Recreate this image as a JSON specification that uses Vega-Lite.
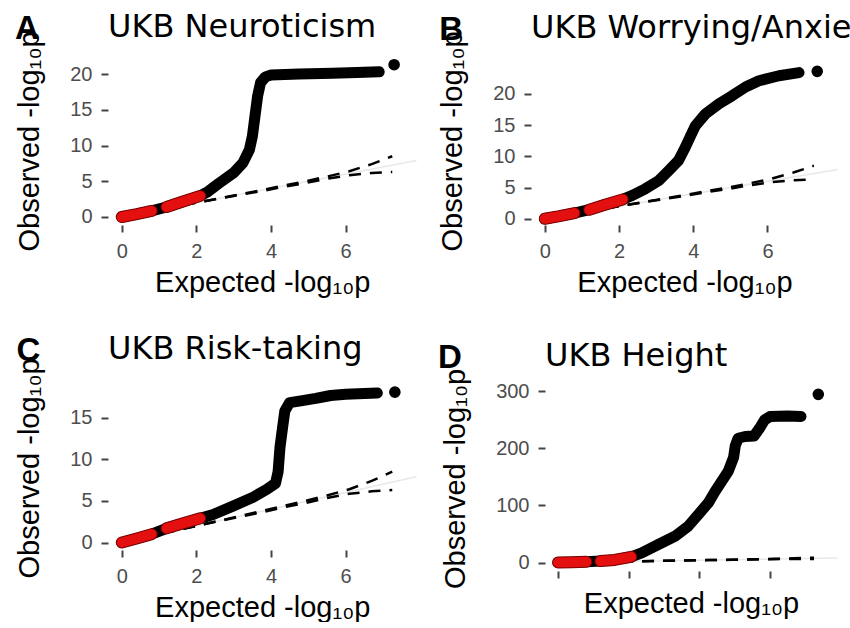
{
  "$schema": "https://vega.github.io/schema/vega-lite/v6.json",
  "background": "white",
  "padding": {"left": 15, "top": 10, "right": 0, "bottom": 0},
  "datasets": {
    "A": [
      {"x": 0, "y": 0, "c": "red", "g": "r1"},
      {"x": 0.4, "y": 0.4, "c": "red", "g": "r1"},
      {"x": 0.8, "y": 0.85, "c": "red", "g": "r1"},
      {"x": 1.2, "y": 1.4, "c": "red", "g": "r2"},
      {"x": 1.6, "y": 2.1, "c": "red", "g": "r2"},
      {"x": 2.1, "y": 2.95, "c": "red", "g": "r2"},
      {"x": 2.3, "y": 3.5, "c": "black", "g": "k"},
      {"x": 2.6, "y": 4.7, "c": "black", "g": "k"},
      {"x": 3.0, "y": 6.2, "c": "black", "g": "k"},
      {"x": 3.25, "y": 7.6, "c": "black", "g": "k"},
      {"x": 3.42, "y": 9.4, "c": "black", "g": "k"},
      {"x": 3.5, "y": 11.3, "c": "black", "g": "k"},
      {"x": 3.57, "y": 14.1, "c": "black", "g": "k"},
      {"x": 3.64, "y": 16.9, "c": "black", "g": "k"},
      {"x": 3.72, "y": 18.8, "c": "black", "g": "k"},
      {"x": 3.85, "y": 19.6, "c": "black", "g": "k"},
      {"x": 4.0, "y": 19.85, "c": "black", "g": "k"},
      {"x": 4.75, "y": 20.0, "c": "black", "g": "k"},
      {"x": 5.65, "y": 20.1, "c": "black", "g": "k"},
      {"x": 6.3, "y": 20.2, "c": "black", "g": "k"},
      {"x": 6.9, "y": 20.3, "c": "black", "g": "k"},
      {"x": 7.3, "y": 21.3, "c": "black", "g": "t"}
    ],
    "B": [
      {"x": 0, "y": 0, "c": "red", "g": "r1"},
      {"x": 0.4, "y": 0.42, "c": "red", "g": "r1"},
      {"x": 0.8, "y": 0.9, "c": "red", "g": "r1"},
      {"x": 1.2, "y": 1.45, "c": "red", "g": "r2"},
      {"x": 1.6, "y": 2.2, "c": "red", "g": "r2"},
      {"x": 2.1, "y": 3.1, "c": "red", "g": "r2"},
      {"x": 2.36, "y": 3.73, "c": "black", "g": "k"},
      {"x": 2.71, "y": 4.8, "c": "black", "g": "k"},
      {"x": 3.07, "y": 6.1, "c": "black", "g": "k"},
      {"x": 3.34, "y": 7.7, "c": "black", "g": "k"},
      {"x": 3.6, "y": 9.3, "c": "black", "g": "k"},
      {"x": 3.79, "y": 11.5, "c": "black", "g": "k"},
      {"x": 3.93, "y": 13.3, "c": "black", "g": "k"},
      {"x": 4.06, "y": 14.9, "c": "black", "g": "k"},
      {"x": 4.33, "y": 16.8, "c": "black", "g": "k"},
      {"x": 4.69, "y": 18.4, "c": "black", "g": "k"},
      {"x": 5.05, "y": 19.7, "c": "black", "g": "k"},
      {"x": 5.41, "y": 21.1, "c": "black", "g": "k"},
      {"x": 5.77, "y": 22.1, "c": "black", "g": "k"},
      {"x": 6.31, "y": 22.9, "c": "black", "g": "k"},
      {"x": 6.85, "y": 23.4, "c": "black", "g": "k"},
      {"x": 7.34, "y": 23.6, "c": "black", "g": "t"}
    ],
    "C": [
      {"x": 0, "y": 0, "c": "red", "g": "r1"},
      {"x": 0.4, "y": 0.48, "c": "red", "g": "r1"},
      {"x": 0.8, "y": 1.0, "c": "red", "g": "r1"},
      {"x": 1.2, "y": 1.7, "c": "red", "g": "r2"},
      {"x": 1.6, "y": 2.25, "c": "red", "g": "r2"},
      {"x": 2.1, "y": 2.9, "c": "red", "g": "r2"},
      {"x": 2.45, "y": 3.36, "c": "black", "g": "k"},
      {"x": 2.98, "y": 4.36, "c": "black", "g": "k"},
      {"x": 3.52, "y": 5.44, "c": "black", "g": "k"},
      {"x": 3.88, "y": 6.36, "c": "black", "g": "k"},
      {"x": 4.12, "y": 7.1, "c": "black", "g": "k"},
      {"x": 4.19, "y": 8.5, "c": "black", "g": "k"},
      {"x": 4.24, "y": 11.4, "c": "black", "g": "k"},
      {"x": 4.31, "y": 13.8, "c": "black", "g": "k"},
      {"x": 4.37, "y": 15.8, "c": "black", "g": "k"},
      {"x": 4.5, "y": 16.8, "c": "black", "g": "k"},
      {"x": 4.8, "y": 17.0, "c": "black", "g": "k"},
      {"x": 5.2, "y": 17.3, "c": "black", "g": "k"},
      {"x": 5.6, "y": 17.65, "c": "black", "g": "k"},
      {"x": 6.0, "y": 17.8, "c": "black", "g": "k"},
      {"x": 6.5, "y": 17.9, "c": "black", "g": "k"},
      {"x": 6.85, "y": 17.95, "c": "black", "g": "k"},
      {"x": 7.32, "y": 18.05, "c": "black", "g": "t"}
    ],
    "D": [
      {"x": 0, "y": 0, "c": "red", "g": "r1"},
      {"x": 0.4, "y": 0.5, "c": "red", "g": "r1"},
      {"x": 0.8, "y": 1.2, "c": "red", "g": "r1"},
      {"x": 1.2, "y": 2.5, "c": "red", "g": "r2"},
      {"x": 1.6, "y": 4.5, "c": "red", "g": "r2"},
      {"x": 2.07, "y": 10, "c": "red", "g": "r2"},
      {"x": 2.37, "y": 17, "c": "black", "g": "k"},
      {"x": 2.84, "y": 31.6, "c": "black", "g": "k"},
      {"x": 3.31, "y": 46, "c": "black", "g": "k"},
      {"x": 3.69, "y": 64, "c": "black", "g": "k"},
      {"x": 3.97, "y": 84, "c": "black", "g": "k"},
      {"x": 4.26, "y": 105, "c": "black", "g": "k"},
      {"x": 4.45, "y": 125, "c": "black", "g": "k"},
      {"x": 4.64, "y": 143, "c": "black", "g": "k"},
      {"x": 4.82, "y": 160, "c": "black", "g": "k"},
      {"x": 4.97, "y": 184, "c": "black", "g": "k"},
      {"x": 5.02, "y": 205, "c": "black", "g": "k"},
      {"x": 5.1, "y": 218, "c": "black", "g": "k"},
      {"x": 5.3, "y": 221, "c": "black", "g": "k"},
      {"x": 5.55, "y": 222, "c": "black", "g": "k"},
      {"x": 5.7, "y": 235, "c": "black", "g": "k"},
      {"x": 5.85, "y": 250, "c": "black", "g": "k"},
      {"x": 6.0, "y": 256, "c": "black", "g": "k"},
      {"x": 6.5, "y": 257, "c": "black", "g": "k"},
      {"x": 6.88, "y": 256, "c": "black", "g": "k"},
      {"x": 7.37, "y": 295, "c": "black", "g": "t"}
    ],
    "ci": [
      {"x": 0, "y": 0, "b": "upper"}, {"x": 1, "y": 1.0, "b": "upper"}, {"x": 2, "y": 2.0, "b": "upper"},
      {"x": 3, "y": 3.0, "b": "upper"}, {"x": 3.73, "y": 3.75, "b": "upper"}, {"x": 4.3, "y": 4.35, "b": "upper"},
      {"x": 4.93, "y": 5.0, "b": "upper"}, {"x": 5.5, "y": 5.65, "b": "upper"}, {"x": 6.1, "y": 6.4, "b": "upper"},
      {"x": 6.7, "y": 7.4, "b": "upper"}, {"x": 7.25, "y": 8.5, "b": "upper"},
      {"x": 0, "y": 0, "b": "lower"}, {"x": 1, "y": 1.0, "b": "lower"}, {"x": 2, "y": 2.0, "b": "lower"},
      {"x": 3, "y": 2.95, "b": "lower"}, {"x": 3.73, "y": 3.6, "b": "lower"}, {"x": 4.3, "y": 4.2, "b": "lower"},
      {"x": 4.93, "y": 4.75, "b": "lower"}, {"x": 5.5, "y": 5.35, "b": "lower"}, {"x": 6.1, "y": 5.85, "b": "lower"},
      {"x": 6.7, "y": 6.15, "b": "lower"}, {"x": 7.25, "y": 6.3, "b": "lower"}
    ],
    "ref": [
      {"x": 0, "y": 0}, {"x": 7.9, "y": 7.9}
    ]
  },
  "vconcat": [
    {
      "spacing": 18,
      "hconcat": [
        {
          "width": 308.5, "height": 168,
          "title": "UKB Neuroticism",
          "layer": [
            {
              "encoding": {
                "x": {"field": "x", "type": "quantitative", "scale": {"domain": [-0.37, 7.9], "nice": false, "zero": false}, "axis": {"values": [0, 2, 4, 6], "title": "Expected -log₁₀p"}},
                "y": {"field": "y", "type": "quantitative", "scale": {"domain": [-1.12, 22.38], "nice": false, "zero": false}, "axis": {"values": [0, 5, 10, 15, 20], "title": "Observed -log₁₀p"}}
              },
              "layer": [
                {"data": {"name": "ref"}, "mark": {"type": "line", "color": "#e8e8e8", "strokeWidth": 1.5}, "encoding": {}},
                {"data": {"name": "ci"}, "mark": {"type": "line", "color": "#000000", "strokeWidth": 2.5, "strokeDash": [12, 9]}, "encoding": {"detail": {"field": "b"}}},
                {"data": {"name": "A"}, "transform": [{"filter": "datum.g != 't'"}], "mark": {"type": "line", "color": "#000000", "strokeWidth": 11, "strokeCap": "round", "strokeJoin": "round"}, "encoding": {}},
                {"data": {"name": "A"}, "transform": [{"filter": "datum.c == 'red'"}], "mark": {"type": "line", "color": "#7a0000", "strokeWidth": 12, "strokeCap": "round", "strokeJoin": "round"}, "encoding": {"detail": {"field": "g"}}},
                {"data": {"name": "A"}, "transform": [{"filter": "datum.c == 'red'"}], "mark": {"type": "line", "color": "#e41010", "strokeWidth": 10, "strokeCap": "round", "strokeJoin": "round"}, "encoding": {"detail": {"field": "g"}}},
                {"data": {"name": "A"}, "transform": [{"filter": "datum.g == 't'"}], "mark": {"type": "point", "filled": true, "color": "#000000", "size": 135, "opacity": 1}, "encoding": {}}
              ]
            },
            {
              "data": {"values": [{"label": "A"}]},
              "mark": {"type": "text", "font": "Liberation Sans", "fontSize": 33, "fontWeight": "bold", "align": "left", "baseline": "alphabetic", "color": "#000000"},
              "encoding": {
                "text": {"field": "label"},
                "x": {"datum": -2.86, "type": "quantitative", "scale": {"domain": [-0.37, 7.9], "nice": false, "zero": false}, "axis": {"values": [0, 2, 4, 6], "title": "Expected -log₁₀p"}},
                "y": {"datum": 24.9, "type": "quantitative", "scale": {"domain": [-1.12, 22.38], "nice": false, "zero": false}, "axis": {"values": [0, 5, 10, 15, 20], "title": "Observed -log₁₀p"}}
              }
            }
          ]
        },
        {
          "width": 307, "height": 168,
          "title": "UKB Worrying/Anxiety",
          "layer": [
            {
              "encoding": {
                "x": {"field": "x", "type": "quantitative", "scale": {"domain": [-0.37, 7.9], "nice": false, "zero": false}, "axis": {"values": [0, 2, 4, 6], "title": "Expected -log₁₀p"}},
                "y": {"field": "y", "type": "quantitative", "scale": {"domain": [-1.0, 25.9], "nice": false, "zero": false}, "axis": {"values": [0, 5, 10, 15, 20], "title": "Observed -log₁₀p"}}
              },
              "layer": [
                {"data": {"name": "ref"}, "mark": {"type": "line", "color": "#e8e8e8", "strokeWidth": 1.5}, "encoding": {}},
                {"data": {"name": "ci"}, "mark": {"type": "line", "color": "#000000", "strokeWidth": 2.5, "strokeDash": [12, 9]}, "encoding": {"detail": {"field": "b"}}},
                {"data": {"name": "B"}, "transform": [{"filter": "datum.g != 't'"}], "mark": {"type": "line", "color": "#000000", "strokeWidth": 11, "strokeCap": "round", "strokeJoin": "round"}, "encoding": {}},
                {"data": {"name": "B"}, "transform": [{"filter": "datum.c == 'red'"}], "mark": {"type": "line", "color": "#7a0000", "strokeWidth": 12, "strokeCap": "round", "strokeJoin": "round"}, "encoding": {"detail": {"field": "g"}}},
                {"data": {"name": "B"}, "transform": [{"filter": "datum.c == 'red'"}], "mark": {"type": "line", "color": "#e41010", "strokeWidth": 10, "strokeCap": "round", "strokeJoin": "round"}, "encoding": {"detail": {"field": "g"}}},
                {"data": {"name": "B"}, "transform": [{"filter": "datum.g == 't'"}], "mark": {"type": "point", "filled": true, "color": "#000000", "size": 135, "opacity": 1}, "encoding": {}}
              ]
            },
            {
              "data": {"values": [{"label": "B"}]},
              "mark": {"type": "text", "font": "Liberation Sans", "fontSize": 33, "fontWeight": "bold", "align": "left", "baseline": "alphabetic", "color": "#000000"},
              "encoding": {
                "text": {"field": "label"},
                "x": {"datum": -2.84, "type": "quantitative", "scale": {"domain": [-0.37, 7.9], "nice": false, "zero": false}, "axis": {"values": [0, 2, 4, 6], "title": "Expected -log₁₀p"}},
                "y": {"datum": 28.6, "type": "quantitative", "scale": {"domain": [-1.0, 25.9], "nice": false, "zero": false}, "axis": {"values": [0, 5, 10, 15, 20], "title": "Observed -log₁₀p"}}
              }
            }
          ]
        }
      ]
    },
    {
      "spacing": 18,
      "hconcat": [
        {
          "width": 308.5, "height": 164,
          "title": "UKB Risk-taking",
          "layer": [
            {
              "encoding": {
                "x": {"field": "x", "type": "quantitative", "scale": {"domain": [-0.37, 7.9], "nice": false, "zero": false}, "axis": {"values": [0, 2, 4, 6], "title": "Expected -log₁₀p"}},
                "y": {"field": "y", "type": "quantitative", "scale": {"domain": [-0.9, 18.79], "nice": false, "zero": false}, "axis": {"values": [0, 5, 10, 15], "title": "Observed -log₁₀p"}}
              },
              "layer": [
                {"data": {"name": "ref"}, "mark": {"type": "line", "color": "#e8e8e8", "strokeWidth": 1.5}, "encoding": {}},
                {"data": {"name": "ci"}, "mark": {"type": "line", "color": "#000000", "strokeWidth": 2.5, "strokeDash": [12, 9]}, "encoding": {"detail": {"field": "b"}}},
                {"data": {"name": "C"}, "transform": [{"filter": "datum.g != 't'"}], "mark": {"type": "line", "color": "#000000", "strokeWidth": 11, "strokeCap": "round", "strokeJoin": "round"}, "encoding": {}},
                {"data": {"name": "C"}, "transform": [{"filter": "datum.c == 'red'"}], "mark": {"type": "line", "color": "#7a0000", "strokeWidth": 12, "strokeCap": "round", "strokeJoin": "round"}, "encoding": {"detail": {"field": "g"}}},
                {"data": {"name": "C"}, "transform": [{"filter": "datum.c == 'red'"}], "mark": {"type": "line", "color": "#e41010", "strokeWidth": 10, "strokeCap": "round", "strokeJoin": "round"}, "encoding": {"detail": {"field": "g"}}},
                {"data": {"name": "C"}, "transform": [{"filter": "datum.g == 't'"}], "mark": {"type": "point", "filled": true, "color": "#000000", "size": 135, "opacity": 1}, "encoding": {}}
              ]
            },
            {
              "data": {"values": [{"label": "C"}]},
              "mark": {"type": "text", "font": "Liberation Sans", "fontSize": 33, "fontWeight": "bold", "align": "left", "baseline": "alphabetic", "color": "#000000"},
              "encoding": {
                "text": {"field": "label"},
                "x": {"datum": -2.82, "type": "quantitative", "scale": {"domain": [-0.37, 7.9], "nice": false, "zero": false}, "axis": {"values": [0, 2, 4, 6], "title": "Expected -log₁₀p"}},
                "y": {"datum": 21.8, "type": "quantitative", "scale": {"domain": [-0.9, 18.79], "nice": false, "zero": false}, "axis": {"values": [0, 5, 10, 15], "title": "Observed -log₁₀p"}}
              }
            }
          ]
        },
        {
          "width": 292, "height": 185,
          "title": "UKB Height",
          "layer": [
            {
              "encoding": {
                "x": {"field": "x", "type": "quantitative", "scale": {"domain": [-0.37, 7.9], "nice": false, "zero": false}, "axis": {"values": [0, 2, 4, 6], "labels": false, "titlePadding": 10, "title": "Expected -log₁₀p"}},
                "y": {"field": "y", "type": "quantitative", "scale": {"domain": [-14.9, 309.6], "nice": false, "zero": false}, "axis": {"values": [0, 100, 200, 300], "title": "Observed -log₁₀p"}}
              },
              "layer": [
                {"data": {"name": "ref"}, "mark": {"type": "line", "color": "#e8e8e8", "strokeWidth": 1.5}, "encoding": {}},
                {"data": {"name": "ci"}, "mark": {"type": "line", "color": "#000000", "strokeWidth": 2.5, "strokeDash": [12, 9]}, "encoding": {"detail": {"field": "b"}}},
                {"data": {"name": "D"}, "transform": [{"filter": "datum.g != 't'"}], "mark": {"type": "line", "color": "#000000", "strokeWidth": 11, "strokeCap": "round", "strokeJoin": "round"}, "encoding": {}},
                {"data": {"name": "D"}, "transform": [{"filter": "datum.c == 'red'"}], "mark": {"type": "line", "color": "#7a0000", "strokeWidth": 12, "strokeCap": "round", "strokeJoin": "round"}, "encoding": {"detail": {"field": "g"}}},
                {"data": {"name": "D"}, "transform": [{"filter": "datum.c == 'red'"}], "mark": {"type": "line", "color": "#e41010", "strokeWidth": 10, "strokeCap": "round", "strokeJoin": "round"}, "encoding": {"detail": {"field": "g"}}},
                {"data": {"name": "D"}, "transform": [{"filter": "datum.g == 't'"}], "mark": {"type": "point", "filled": true, "color": "#000000", "size": 135, "opacity": 1}, "encoding": {}}
              ]
            },
            {
              "data": {"values": [{"label": "D"}]},
              "mark": {"type": "text", "font": "Liberation Sans", "fontSize": 33, "fontWeight": "bold", "align": "left", "baseline": "alphabetic", "color": "#000000"},
              "encoding": {
                "text": {"field": "label"},
                "x": {"datum": -3.4, "type": "quantitative", "scale": {"domain": [-0.37, 7.9], "nice": false, "zero": false}, "axis": {"values": [0, 2, 4, 6], "labels": false, "titlePadding": 10, "title": "Expected -log₁₀p"}},
                "y": {"datum": 342, "type": "quantitative", "scale": {"domain": [-14.9, 309.6], "nice": false, "zero": false}, "axis": {"values": [0, 100, 200, 300], "title": "Observed -log₁₀p"}}
              }
            }
          ]
        }
      ]
    }
  ],
  "spacing": 35,
  "config": {
    "view": {"stroke": null},
    "title": {"anchor": "start", "frame": "group", "font": "DejaVu Sans", "fontSize": 32, "fontWeight": "normal", "color": "#000000", "offset": -31},
    "axis": {"domain": false, "grid": false, "tickColor": "#444444", "tickWidth": 2, "tickSize": 7, "labelColor": "#4d4d4d", "labelFont": "Liberation Sans", "labelFontSize": 20, "labelPadding": 9, "titleFont": "Liberation Sans", "titleFontSize": 29, "titleFontWeight": "normal", "titleColor": "#000000"},
    "axisX": {"titlePadding": 7},
    "axisY": {"titlePadding": 25}
  }
}
